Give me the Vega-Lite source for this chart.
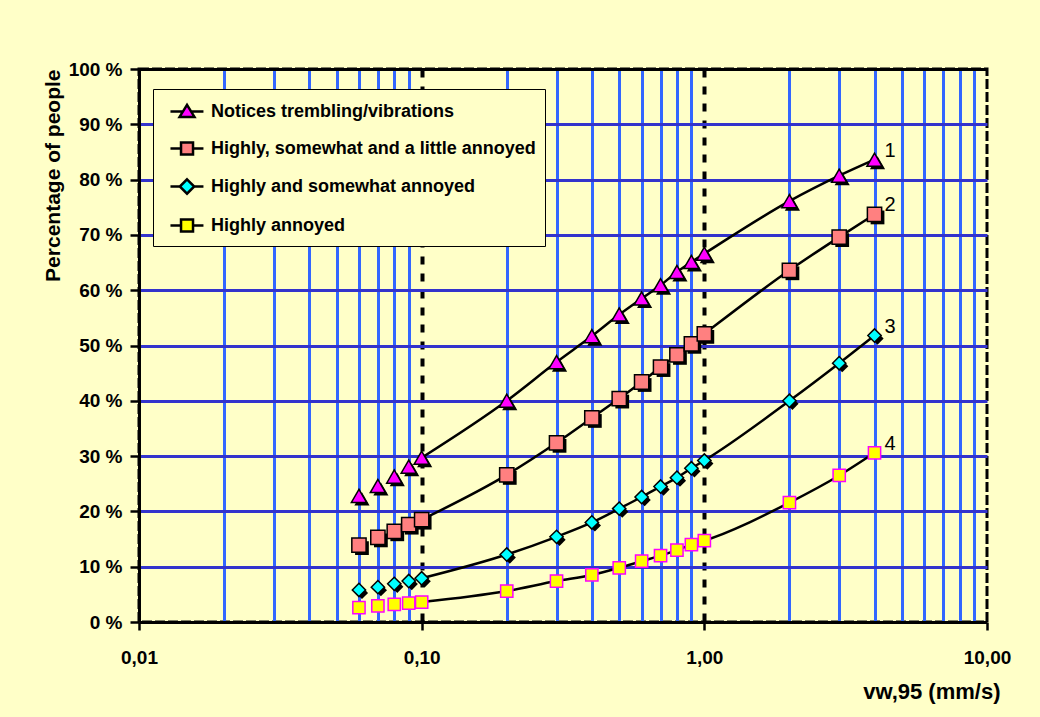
{
  "$schema": "https://vega.github.io/schema/vega-lite/v6.json",
  "width": 848,
  "height": 553,
  "autosize": {"type": "none"},
  "padding": {"left": 139, "top": 69, "right": 53, "bottom": 95},
  "background": "#FFFFC8",
  "config": {"view": {"stroke": "black", "strokeWidth": 3, "strokeDash": [10, 3]}, "font": "Liberation Sans"},
  "data": {
    "values": [
      {"x": 0.06, "y": 22.8, "s": "Notices trembling/vibrations", "n": "1"},
      {"x": 0.07, "y": 24.6, "s": "Notices trembling/vibrations", "n": "1"},
      {"x": 0.08, "y": 26.3, "s": "Notices trembling/vibrations", "n": "1"},
      {"x": 0.09, "y": 28.1, "s": "Notices trembling/vibrations", "n": "1"},
      {"x": 0.1, "y": 29.7, "s": "Notices trembling/vibrations", "n": "1"},
      {"x": 0.2, "y": 40.0, "s": "Notices trembling/vibrations", "n": "1"},
      {"x": 0.3, "y": 47.0, "s": "Notices trembling/vibrations", "n": "1"},
      {"x": 0.4, "y": 51.7, "s": "Notices trembling/vibrations", "n": "1"},
      {"x": 0.5, "y": 55.6, "s": "Notices trembling/vibrations", "n": "1"},
      {"x": 0.6, "y": 58.5, "s": "Notices trembling/vibrations", "n": "1"},
      {"x": 0.7, "y": 60.9, "s": "Notices trembling/vibrations", "n": "1"},
      {"x": 0.8, "y": 63.3, "s": "Notices trembling/vibrations", "n": "1"},
      {"x": 0.9, "y": 65.1, "s": "Notices trembling/vibrations", "n": "1"},
      {"x": 1, "y": 66.6, "s": "Notices trembling/vibrations", "n": "1"},
      {"x": 2, "y": 76.1, "s": "Notices trembling/vibrations", "n": "1"},
      {"x": 3, "y": 80.7, "s": "Notices trembling/vibrations", "n": "1"},
      {"x": 4, "y": 83.6, "s": "Notices trembling/vibrations", "n": "1"},
      {"x": 0.06, "y": 13.9, "s": "Highly, somewhat and a little annoyed", "n": "2"},
      {"x": 0.07, "y": 15.3, "s": "Highly, somewhat and a little annoyed", "n": "2"},
      {"x": 0.08, "y": 16.4, "s": "Highly, somewhat and a little annoyed", "n": "2"},
      {"x": 0.09, "y": 17.6, "s": "Highly, somewhat and a little annoyed", "n": "2"},
      {"x": 0.1, "y": 18.5, "s": "Highly, somewhat and a little annoyed", "n": "2"},
      {"x": 0.2, "y": 26.6, "s": "Highly, somewhat and a little annoyed", "n": "2"},
      {"x": 0.3, "y": 32.4, "s": "Highly, somewhat and a little annoyed", "n": "2"},
      {"x": 0.4, "y": 36.9, "s": "Highly, somewhat and a little annoyed", "n": "2"},
      {"x": 0.5, "y": 40.4, "s": "Highly, somewhat and a little annoyed", "n": "2"},
      {"x": 0.6, "y": 43.4, "s": "Highly, somewhat and a little annoyed", "n": "2"},
      {"x": 0.7, "y": 46.1, "s": "Highly, somewhat and a little annoyed", "n": "2"},
      {"x": 0.8, "y": 48.3, "s": "Highly, somewhat and a little annoyed", "n": "2"},
      {"x": 0.9, "y": 50.3, "s": "Highly, somewhat and a little annoyed", "n": "2"},
      {"x": 1, "y": 52.1, "s": "Highly, somewhat and a little annoyed", "n": "2"},
      {"x": 2, "y": 63.6, "s": "Highly, somewhat and a little annoyed", "n": "2"},
      {"x": 3, "y": 69.6, "s": "Highly, somewhat and a little annoyed", "n": "2"},
      {"x": 4, "y": 73.7, "s": "Highly, somewhat and a little annoyed", "n": "2"},
      {"x": 0.06, "y": 5.8, "s": "Highly and somewhat annoyed", "n": "3"},
      {"x": 0.07, "y": 6.3, "s": "Highly and somewhat annoyed", "n": "3"},
      {"x": 0.08, "y": 6.9, "s": "Highly and somewhat annoyed", "n": "3"},
      {"x": 0.09, "y": 7.4, "s": "Highly and somewhat annoyed", "n": "3"},
      {"x": 0.1, "y": 7.9, "s": "Highly and somewhat annoyed", "n": "3"},
      {"x": 0.2, "y": 12.2, "s": "Highly and somewhat annoyed", "n": "3"},
      {"x": 0.3, "y": 15.4, "s": "Highly and somewhat annoyed", "n": "3"},
      {"x": 0.4, "y": 18.0, "s": "Highly and somewhat annoyed", "n": "3"},
      {"x": 0.5, "y": 20.5, "s": "Highly and somewhat annoyed", "n": "3"},
      {"x": 0.6, "y": 22.6, "s": "Highly and somewhat annoyed", "n": "3"},
      {"x": 0.7, "y": 24.5, "s": "Highly and somewhat annoyed", "n": "3"},
      {"x": 0.8, "y": 26.1, "s": "Highly and somewhat annoyed", "n": "3"},
      {"x": 0.9, "y": 27.8, "s": "Highly and somewhat annoyed", "n": "3"},
      {"x": 1, "y": 29.2, "s": "Highly and somewhat annoyed", "n": "3"},
      {"x": 2, "y": 40.0, "s": "Highly and somewhat annoyed", "n": "3"},
      {"x": 3, "y": 46.8, "s": "Highly and somewhat annoyed", "n": "3"},
      {"x": 4, "y": 51.8, "s": "Highly and somewhat annoyed", "n": "3"},
      {"x": 0.06, "y": 2.6, "s": "Highly annoyed", "n": "4"},
      {"x": 0.07, "y": 2.9, "s": "Highly annoyed", "n": "4"},
      {"x": 0.08, "y": 3.2, "s": "Highly annoyed", "n": "4"},
      {"x": 0.09, "y": 3.4, "s": "Highly annoyed", "n": "4"},
      {"x": 0.1, "y": 3.6, "s": "Highly annoyed", "n": "4"},
      {"x": 0.2, "y": 5.6, "s": "Highly annoyed", "n": "4"},
      {"x": 0.3, "y": 7.4, "s": "Highly annoyed", "n": "4"},
      {"x": 0.4, "y": 8.5, "s": "Highly annoyed", "n": "4"},
      {"x": 0.5, "y": 9.8, "s": "Highly annoyed", "n": "4"},
      {"x": 0.6, "y": 11.0, "s": "Highly annoyed", "n": "4"},
      {"x": 0.7, "y": 12.0, "s": "Highly annoyed", "n": "4"},
      {"x": 0.8, "y": 13.0, "s": "Highly annoyed", "n": "4"},
      {"x": 0.9, "y": 14.0, "s": "Highly annoyed", "n": "4"},
      {"x": 1, "y": 14.7, "s": "Highly annoyed", "n": "4"},
      {"x": 2, "y": 21.6, "s": "Highly annoyed", "n": "4"},
      {"x": 3, "y": 26.5, "s": "Highly annoyed", "n": "4"},
      {"x": 4, "y": 30.6, "s": "Highly annoyed", "n": "4"}
    ]
  },
  "encoding": {
    "x": {
      "field": "x",
      "type": "quantitative",
      "scale": {"type": "log", "domain": [0.01, 10], "nice": false},
      "axis": {
        "values": [0.01, 0.02, 0.03, 0.04, 0.05, 0.06, 0.07, 0.08, 0.09, 0.1, 0.2, 0.3, 0.4, 0.5, 0.6, 0.7, 0.8, 0.9, 1, 2, 3, 4, 5, 6, 7, 8, 9, 10],
        "labelExpr": "indexof([0.01,0.1,1,10], datum.value) >= 0 ? replace(format(datum.value, '.2f'), '.', ',') : ''",
        "labelOverlap": false,
        "labelFlush": false,
        "labelFont": "Liberation Sans",
        "labelFontSize": 19,
        "labelFontWeight": "bold",
        "labelColor": "black",
        "labelPadding": 18,
        "tickSize": 8,
        "tickWidth": 2.5,
        "tickColor": "black",
        "tickOpacity": {"condition": {"test": "indexof([0.01,0.1,1,10], datum.value) < 0", "value": 0}, "value": 1},
        "domainColor": "black",
        "domainWidth": 3,
        "grid": true,
        "gridColor": {"condition": {"test": "indexof([0.1,1], datum.value) >= 0", "value": "black"}, "value": "#3366FF"},
        "gridWidth": {"condition": {"test": "indexof([0.1,1], datum.value) >= 0", "value": 4}, "value": 3},
        "gridDash": {"condition": {"test": "indexof([0.1,1], datum.value) >= 0", "value": [8, 9]}, "value": []},
        "gridOpacity": {"condition": {"test": "datum.value == 0.01 || datum.value == 10", "value": 0}, "value": 1},
        "title": "vw,95 (mm/s)",
        "titleFont": "Liberation Sans",
        "titleFontSize": 22,
        "titleFontWeight": "bold",
        "titleColor": "black",
        "titleAlign": "right",
        "titleAnchor": "end",
        "titleX": 861,
        "titleY": 76,
        "titleBaseline": "alphabetic"
      }
    },
    "y": {
      "field": "y",
      "type": "quantitative",
      "scale": {"domain": [0, 100], "nice": false},
      "axis": {
        "values": [0, 10, 20, 30, 40, 50, 60, 70, 80, 90, 100],
        "labelExpr": "datum.value + ' %'",
        "labelFlush": false,
        "labelFont": "Liberation Sans",
        "labelFontSize": 19,
        "labelFontWeight": "bold",
        "labelColor": "black",
        "labelPadding": 8,
        "tickSize": 9,
        "tickWidth": 2.5,
        "tickColor": "black",
        "domainColor": "black",
        "domainWidth": 3,
        "grid": true,
        "gridColor": {"condition": {"test": "datum.value == 100", "value": "black"}, "value": "#3333CC"},
        "gridWidth": 3,
        "gridOpacity": {"condition": {"test": "datum.value == 0", "value": 0}, "value": 1},
        "title": "Percentage of people",
        "titleFont": "Liberation Sans",
        "titleFontSize": 21,
        "titleFontWeight": "bold",
        "titleColor": "black",
        "titleAnchor": "end",
        "titlePadding": 5
      }
    }
  },
  "layer": [
    {
      "transform": [{"filter": "datum.x >= 0.1"}],
      "mark": {"type": "line", "interpolate": "monotone", "color": "black", "strokeWidth": 2.5},
      "encoding": {"detail": {"field": "s"}}
    },
    {
      "transform": [{"filter": "datum.s != 'Highly annoyed'"}],
      "mark": {"type": "point", "filled": true, "fill": "black", "opacity": 1, "strokeWidth": 0, "xOffset": 3, "yOffset": 3},
      "encoding": {
        "shape": {"field": "s", "scale": {"domain": ["Notices trembling/vibrations", "Highly, somewhat and a little annoyed", "Highly and somewhat annoyed"], "range": ["triangle-up", "square", "diamond"]}, "legend": null},
        "size": {"field": "s", "scale": {"domain": ["Notices trembling/vibrations", "Highly, somewhat and a little annoyed", "Highly and somewhat annoyed"], "range": [230, 150, 170]}, "legend": null}
      }
    },
    {
      "mark": {"type": "point", "filled": true, "opacity": 1, "strokeWidth": 1.5},
      "encoding": {
        "shape": {"field": "s", "scale": {"domain": ["Notices trembling/vibrations", "Highly, somewhat and a little annoyed", "Highly and somewhat annoyed", "Highly annoyed"], "range": ["triangle-up", "square", "diamond", "square"]}, "legend": null},
        "size": {"field": "s", "scale": {"domain": ["Notices trembling/vibrations", "Highly, somewhat and a little annoyed", "Highly and somewhat annoyed", "Highly annoyed"], "range": [230, 150, 170, 130]}, "legend": null},
        "fill": {"field": "s", "scale": {"domain": ["Notices trembling/vibrations", "Highly, somewhat and a little annoyed", "Highly and somewhat annoyed", "Highly annoyed"], "range": ["#FF00FF", "#FF8080", "#00FFFF", "#FFFF00"]}, "legend": null},
        "stroke": {"field": "s", "scale": {"domain": ["Notices trembling/vibrations", "Highly, somewhat and a little annoyed", "Highly and somewhat annoyed", "Highly annoyed"], "range": ["black", "black", "black", "#FF00FF"]}, "legend": null}
      }
    },
    {
      "transform": [{"filter": "datum.x == 4"}],
      "mark": {"type": "text", "align": "left", "baseline": "middle", "dx": 10, "dy": -9, "font": "Liberation Sans", "fontSize": 20, "color": "black"},
      "encoding": {"text": {"field": "n"}}
    },
    {
      "transform": [{"filter": "datum.x < 0"}],
      "mark": {"type": "point", "filled": true, "size": 576, "opacity": 1},
      "encoding": {
        "shape": {"field": "s", "scale": {"domain": ["Notices trembling/vibrations", "Highly, somewhat and a little annoyed", "Highly and somewhat annoyed", "Highly annoyed"], "range": ["M-0.42,0L0.62,0M1.3,0L2.33,0M0.96,-0.55L1.58,0.45L0.34,0.45Z", "M-0.42,0L0.46,0M1.46,0L2.33,0M0.46,-0.5L1.46,-0.5L1.46,0.5L0.46,0.5Z", "M-0.42,0L0.36,0M1.56,0L2.33,0M0.96,-0.6L1.56,0L0.96,0.6L0.36,0Z", "M-0.42,0L0.46,0M1.46,0L2.33,0M0.46,-0.5L1.46,-0.5L1.46,0.5L0.46,0.5Z"]},
          "legend": {"orient": "none", "legendX": 14, "legendY": 20, "title": null, "fillColor": "#FFFFC8", "strokeColor": "black", "padding": 9, "rowPadding": 13, "labelFont": "Liberation Sans", "labelFontSize": 18, "labelFontWeight": "bold", "labelColor": "black", "labelOffset": 22, "labelLimit": 600, "symbolSize": 576, "symbolStrokeWidth": 2.5, "symbolOpacity": 1}},
        "fill": {"field": "s", "scale": {"domain": ["Notices trembling/vibrations", "Highly, somewhat and a little annoyed", "Highly and somewhat annoyed", "Highly annoyed"], "range": ["#FF00FF", "#FF8080", "#00FFFF", "#FFFF00"]},
          "legend": {"orient": "none", "legendX": 14, "legendY": 20, "title": null, "fillColor": "#FFFFC8", "strokeColor": "black", "padding": 9, "rowPadding": 13, "labelFont": "Liberation Sans", "labelFontSize": 18, "labelFontWeight": "bold", "labelColor": "black", "labelOffset": 22, "labelLimit": 600, "symbolSize": 576, "symbolStrokeWidth": 2.5, "symbolOpacity": 1}},
        "stroke": {"field": "s", "scale": {"domain": ["Notices trembling/vibrations", "Highly, somewhat and a little annoyed", "Highly and somewhat annoyed", "Highly annoyed"], "range": ["black", "black", "black", "black"]},
          "legend": {"orient": "none", "legendX": 14, "legendY": 20, "title": null, "fillColor": "#FFFFC8", "strokeColor": "black", "padding": 9, "rowPadding": 13, "labelFont": "Liberation Sans", "labelFontSize": 18, "labelFontWeight": "bold", "labelColor": "black", "labelOffset": 22, "labelLimit": 600, "symbolSize": 576, "symbolStrokeWidth": 2.5, "symbolOpacity": 1}}
      }
    }
  ],
  "resolve": {"scale": {"shape": "independent", "fill": "independent", "stroke": "independent", "size": "independent"}}
}
